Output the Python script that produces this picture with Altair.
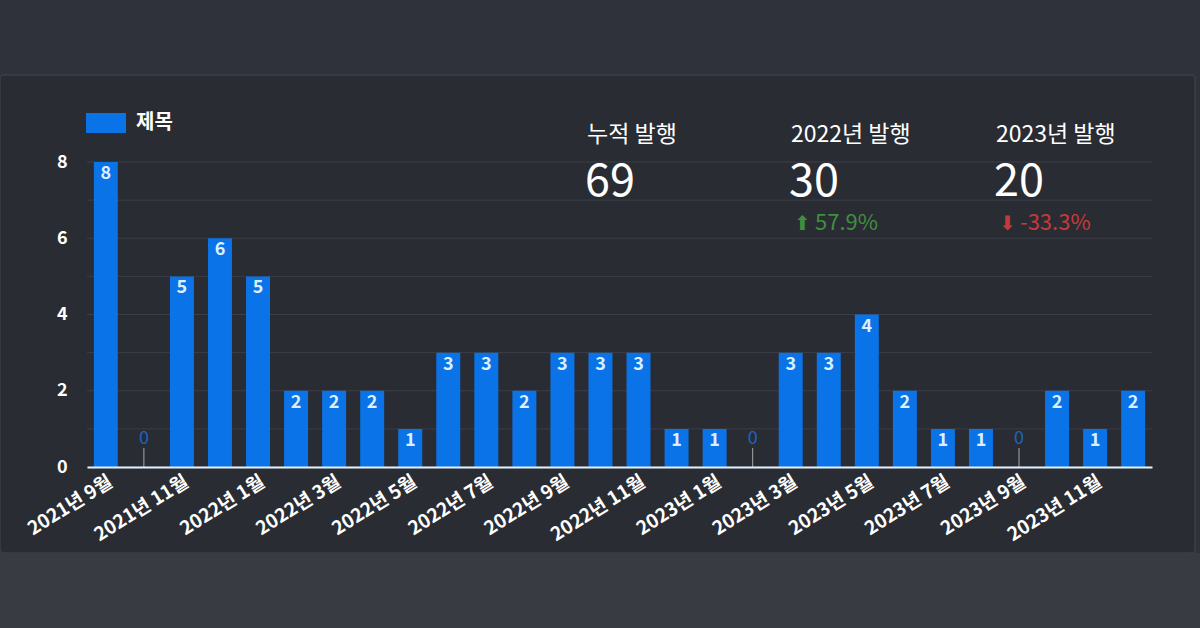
import altair as alt
import pandas as pd

months = ["2021년 9월", "2021년 10월", "2021년 11월", "2021년 12월",
          "2022년 1월", "2022년 2월", "2022년 3월", "2022년 4월", "2022년 5월", "2022년 6월",
          "2022년 7월", "2022년 8월", "2022년 9월", "2022년 10월", "2022년 11월", "2022년 12월",
          "2023년 1월", "2023년 2월", "2023년 3월", "2023년 4월", "2023년 5월", "2023년 6월",
          "2023년 7월", "2023년 8월", "2023년 9월", "2023년 10월", "2023년 11월", "2023년 12월"]
counts = [8, 0, 5, 6, 5, 2, 2, 2, 1, 3, 3, 2, 3, 3, 3, 1, 1, 0, 3, 3, 4, 2, 1, 1, 0, 2, 1, 2]
series_name = "제목"
y_ticks = [0, 1, 2, 3, 4, 5, 6, 7, 8]
x_label_months = months[::2]

kpi_titles = ["누적 발행", "2022년 발행", "2023년 발행"]
kpi_values = ["69", "30", "20"]
kpi_arrows = ["", "⬆", "⬇"]
kpi_changes = ["", "57.9%", "-33.3%"]
kpi_colors = ["#ffffff", "#3f8f3f", "#c43a3a"]

FONT = "Noto Sans CJK KR"
BLUE = "#0b73e8"

df = pd.DataFrame({"month": months, "value": counts, "series": series_name})
grid_df = pd.DataFrame({"tick": y_ticks})

W, H = 1065, 305
PL, PT = 87, 162

x = alt.X("month:O", sort=None, title=None,
          scale=alt.Scale(paddingInner=0.37, paddingOuter=0.18),
          axis=alt.Axis(values=x_label_months, labelAngle=-32, ticks=False,
                        labelFont=FONT, labelFontSize=19, labelFontWeight="bold",
                        labelColor="#ffffff", labelPadding=5, domainColor="#e4f1ff",
                        domainWidth=2, grid=False, labelOverlap=False, zindex=1))
y = alt.Y("value:Q", title=None,
          scale=alt.Scale(domain=[0, 8], nice=False),
          axis=alt.Axis(values=y_ticks, labelExpr="datum.value % 2 == 0 ? datum.label : ''",
                        labelFont=FONT, labelFontSize=18, labelFontWeight="bold",
                        labelColor="#ffffff", labelPadding=20, ticks=False, domain=False,
                        grid=False, zindex=1))

# decorative background panel
top_strip = alt.Chart(df).mark_rect(color="#2f323b").encode(
    x=alt.value(-PL), x2=alt.value(1200 - PL), y=alt.value(-PT), y2=alt.value(75 - PT))
bottom_strip = alt.Chart(df).mark_rect(color="#393b43").encode(
    x=alt.value(-PL), x2=alt.value(1200 - PL), y=alt.value(553 - PT), y2=alt.value(628 - PT))
panel = alt.Chart(df).mark_rect(color="#2a2c33", stroke="#3a3d46", strokeWidth=1.5,
                                cornerRadius=4).encode(
    x=alt.value(-PL), x2=alt.value(1195 - PL), y=alt.value(75 - PT), y2=alt.value(553 - PT))

gridlines = alt.Chart(grid_df).mark_rule(color="#3b3e48", strokeWidth=1).encode(
    y=alt.Y("tick:Q"), x=alt.value(0), x2=alt.value(W))

base = alt.Chart(df)

bars = base.mark_bar().encode(
    x=x, y=y,
    color=alt.Color("series:N", scale=alt.Scale(domain=[series_name], range=[BLUE]),
                    legend=alt.Legend(orient="none", legendX=-1, legendY=-59, title=None,
                                      symbolType="M-1,-0.5H1V0.5H-1Z", symbolSize=1600,
                                      symbolStrokeWidth=0, labelFont=FONT, labelFontSize=20,
                                      labelFontWeight="bold", labelColor="#ffffff",
                                      labelOffset=10, padding=0)))

bar_labels = base.transform_filter("datum.value > 0").mark_text(
    baseline="top", dy=3, font=FONT, fontSize=18, fontWeight="bold", color="#dcefff"
).encode(x=x, y="value:Q", text="value:Q")

zero_rule = base.transform_filter("datum.value == 0").mark_rule(
    color="#a8a8a8", strokeWidth=1
).encode(x=x, y=alt.datum(0), y2=alt.datum(0.5))

zero_labels = base.transform_filter("datum.value == 0").mark_text(
    baseline="bottom", dy=0, font=FONT, fontSize=18, color="#1c64c0"
).encode(x=x, y=alt.datum(0.5), text="value:Q")

kpi_x = [500, 704, 909]
one = "datum.month == '2021년 9월'"
kpi_layers = []
for i in range(3):
    kpi_layers.append(alt.Chart(df).transform_filter(one).mark_text(
        align="left", baseline="middle", font=FONT, fontSize=23, color="#ffffff"
    ).encode(x=alt.value(kpi_x[i]), y=alt.value(-27), text=alt.value(kpi_titles[i])))
    kpi_layers.append(alt.Chart(df).transform_filter(one).mark_text(
        align="left", baseline="middle", font=FONT, fontSize=45, color="#ffffff"
    ).encode(x=alt.value(kpi_x[i] - 2), y=alt.value(20), text=alt.value(kpi_values[i])))
    if kpi_changes[i]:
        kpi_layers.append(alt.Chart(df).transform_filter(one).mark_text(
            align="left", baseline="middle", font="DejaVu Sans", fontSize=20, color=kpi_colors[i]
        ).encode(x=alt.value(kpi_x[i] + 3), y=alt.value(62), text=alt.value(kpi_arrows[i])))
        kpi_layers.append(alt.Chart(df).transform_filter(one).mark_text(
            align="left", baseline="middle", font=FONT, fontSize=22, color=kpi_colors[i]
        ).encode(x=alt.value(kpi_x[i] + 24), y=alt.value(61), text=alt.value(kpi_changes[i])))

chart = alt.layer(top_strip, bottom_strip, panel, gridlines, bars, bar_labels, zero_rule,
                  zero_labels, *kpi_layers).properties(
    width=W, height=H,
    autosize=alt.AutoSizeParams(type="none"),
    padding={"left": PL, "top": PT, "right": 1200 - PL - W, "bottom": 628 - PT - H},
    background="#2f323b",
).configure_view(stroke=None)

chart.save("out.html", embed_options={"renderer": "svg", "actions": False})
